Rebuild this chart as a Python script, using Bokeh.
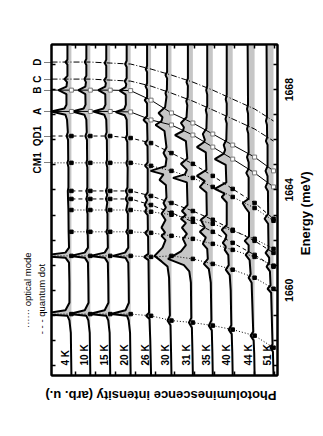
import math
from bokeh.plotting import figure
from bokeh.models import Range1d, LinearAxis, FixedTicker, ColumnDataSource, NumeralTickFormatter
from bokeh.core.properties import value
from bokeh.embed import file_html
from bokeh.resources import INLINE

# ---------------- data ----------------
temps = ["4 K", "10 K", "15 K", "20 K", "26 K", "30 K", "31 K", "35 K", "40 K", "44 K", "51 K"]
offsets = [10.3, 9.35, 8.35, 7.325, 6.3, 5.275, 4.2, 3.2, 2.2, 1.1, 0.15]

# peak trajectories (meV) per temperature
E_D = [1669.10, 1669.10, 1669.06, 1669.02, 1668.82, 1668.58, 1668.30, 1667.98, 1667.62, 1667.23, 1666.75]
E_C = [1668.42, 1668.42, 1668.38, 1668.34, 1668.14, 1667.86, 1667.54, 1667.19, 1666.83, 1666.43, 1665.95]
E_B = [1667.98, 1667.98, 1667.98, 1667.96, 1667.58, 1667.07, 1666.67, 1666.23, 1665.79, 1665.31, 1664.76]
E_A = [1667.13, 1667.13, 1667.13, 1667.11, 1666.79, 1666.59, 1666.19, 1665.71, 1665.23, 1664.68, 1664.12]
E_QD1 = [1666.15, 1666.15, 1666.15, 1666.07, 1665.87, 1665.47, 1665.04, 1664.56, 1664.04, 1663.48, 1662.85]
E_CM1 = [1665.08, 1665.08, 1665.08, 1665.08, 1664.96, 1664.76, 1664.48, 1664.12, 1663.72, 1663.28, 1662.77]
E_Q2 = [1663.96, 1663.96, 1663.96, 1663.96, 1663.76, 1663.48, 1663.16, 1662.81, 1662.41, 1661.97, 1661.49]
E_Q3 = [1663.64, 1663.64, 1663.64, 1663.64, 1663.40, 1663.09, 1662.73, 1662.33, 1661.89, 1661.41, 1660.94]
E_M3 = [1663.20, 1663.20, 1663.20, 1663.20, 1663.13, 1663.01, 1662.85, 1662.65, 1662.37, 1662.05, 1661.65]
E_M4 = [1662.33, 1662.33, 1662.33, 1662.33, 1662.29, 1662.17, 1662.05, 1661.85, 1661.61, 1661.33, 1660.98]
E_M5 = [1661.37, 1661.37, 1661.37, 1661.37, 1661.33, 1661.37, 1661.25, 1661.05, 1660.82, 1660.50, 1660.06]
E_M6 = [1659.05, 1659.05, 1659.05, 1659.05, 1658.98, 1658.79, 1658.71, 1658.59, 1658.43, 1658.19, 1657.71]

# spectra: (energy meV, intensity arb. u.)
S4 = [(1669.8,.2),(1669.2,.2),(1669.1,.3),(1669.0,.2),(1668.55,.2),(1668.42,.35),(1668.3,.22),(1668.12,.25),(1667.98,.65),(1667.82,.25),(1667.4,.25),(1667.25,.35),(1667.13,1.02),(1667.0,.3),(1666.8,.22),(1666.3,.18),(1666.15,.24),(1666.0,.17),(1665.2,.16),(1665.08,.2),(1664.9,.15),(1664.1,.15),(1663.96,.18),(1663.64,.17),(1663.2,.15),(1662.33,.14),(1661.7,.12),(1661.5,.3),(1661.37,1.6),(1661.3,.3),(1661.1,.12),(1660.3,.1),(1659.5,.1),(1659.2,.3),(1659.05,1.6),(1658.98,.2),(1658.8,.1),(1658.3,.03),(1656.6,0)]
S10 = [(1669.8,.2),(1669.22,.2),(1669.1,.28),(1668.98,.2),(1668.55,.2),(1668.42,.3),(1668.3,.22),(1668.12,.25),(1667.98,.6),(1667.82,.25),(1667.4,.24),(1667.25,.33),(1667.13,.9),(1667.0,.3),(1666.8,.2),(1666.3,.18),(1666.15,.25),(1666.0,.17),(1665.2,.16),(1665.08,.2),(1664.9,.15),(1664.1,.15),(1663.96,.2),(1663.8,.15),(1663.64,.2),(1663.5,.15),(1663.2,.18),(1663.05,.14),(1662.45,.14),(1662.33,.17),(1662.2,.13),(1661.7,.12),(1661.5,.28),(1661.37,1.0),(1661.3,.28),(1661.1,.12),(1660.3,.1),(1659.5,.09),(1659.2,.28),(1659.05,1.05),(1658.98,.2),(1658.8,.1),(1658.3,.03),(1656.6,0)]
S15 = [(1669.8,.2),(1669.2,.2),(1669.06,.28),(1668.95,.2),(1668.5,.2),(1668.38,.3),(1668.26,.22),(1668.12,.25),(1667.98,.6),(1667.82,.25),(1667.4,.24),(1667.25,.33),(1667.13,.85),(1667.0,.3),(1666.8,.2),(1666.3,.18),(1666.15,.25),(1666.0,.17),(1665.2,.16),(1665.08,.2),(1664.9,.15),(1664.1,.15),(1663.96,.22),(1663.8,.15),(1663.64,.22),(1663.5,.15),(1663.2,.2),(1663.05,.14),(1662.45,.14),(1662.33,.2),(1662.2,.13),(1661.7,.12),(1661.5,.28),(1661.37,1.0),(1661.3,.28),(1661.1,.12),(1660.3,.1),(1659.5,.09),(1659.2,.28),(1659.05,1.05),(1658.98,.2),(1658.8,.1),(1658.3,.03),(1656.6,0)]
S20 = [(1669.8,.2),(1669.15,.2),(1669.02,.28),(1668.9,.2),(1668.46,.2),(1668.34,.3),(1668.22,.22),(1668.1,.25),(1667.96,.55),(1667.8,.25),(1667.4,.24),(1667.23,.32),(1667.11,.75),(1666.98,.3),(1666.8,.2),(1666.2,.18),(1666.07,.25),(1665.92,.17),(1665.2,.16),(1665.08,.22),(1664.9,.15),(1664.1,.16),(1663.96,.25),(1663.8,.16),(1663.64,.25),(1663.5,.15),(1663.2,.22),(1663.05,.14),(1662.45,.14),(1662.33,.22),(1662.2,.13),(1661.7,.12),(1661.5,.28),(1661.37,.9),(1661.3,.26),(1661.1,.12),(1660.3,.1),(1659.5,.09),(1659.2,.26),(1659.05,1.0),(1658.98,.18),(1658.8,.1),(1658.3,.03),(1656.6,0)]
S26 = [(1669.8,.2),(1668.95,.2),(1668.82,.27),(1668.7,.2),(1668.25,.2),(1668.14,.28),(1668.0,.2),(1667.7,.2),(1667.58,.32),(1667.45,.2),(1666.95,.2),(1666.79,.38),(1666.65,.2),(1666.0,.18),(1665.87,.3),(1665.75,.18),(1665.1,.17),(1664.96,.3),(1664.85,.17),(1663.9,.17),(1663.76,.3),(1663.6,.2),(1663.40,.32),(1663.27,.22),(1663.13,.3),(1663.0,.17),(1662.4,.16),(1662.29,.3),(1662.15,.15),(1661.45,.14),(1661.33,.35),(1661.2,.13),(1659.1,.1),(1658.98,.25),(1658.85,.08),(1658.0,.04),(1656.6,0)]
S30 = [(1669.8,.22),(1668.7,.22),(1668.58,.3),(1668.45,.22),(1668.0,.23),(1667.86,.3),(1667.72,.25),(1667.3,.32),(1667.07,.65),(1666.9,.45),(1666.75,.5),(1666.59,.8),(1666.35,.35),(1665.7,.25),(1665.47,.4),(1665.25,.25),(1664.95,.3),(1664.76,1.05),(1664.62,.4),(1664.4,.6),(1664.2,.28),(1663.7,.25),(1663.48,.4),(1663.3,.28),(1663.05,.5),(1662.8,.3),(1662.5,.5),(1662.3,.32),(1662.17,.5),(1662.0,.3),(1661.7,.45),(1661.37,.85),(1661.15,.5),(1660.95,.2),(1660.5,.12),(1659.0,.08),(1658.79,.2),(1658.6,.05),(1657.5,.02),(1656.6,0)]
S31 = [(1669.8,.25),(1668.45,.25),(1668.30,.32),(1668.15,.25),(1667.7,.26),(1667.54,.33),(1667.38,.28),(1666.9,.32),(1666.67,.6),(1666.5,.45),(1666.35,.5),(1666.19,.9),(1665.95,.35),(1665.25,.28),(1665.04,.6),(1664.8,.3),(1664.62,.4),(1664.48,1.0),(1664.3,.3),(1663.4,.27),(1663.16,.55),(1663.0,.35),(1662.85,.6),(1662.68,.35),(1662.5,.55),(1662.25,.3),(1662.05,.5),(1661.8,.35),(1661.55,.6),(1661.25,1.25),(1661.0,.45),(1660.75,.18),(1660.3,.1),(1658.9,.08),(1658.71,.2),(1658.5,.05),(1657.5,.02),(1656.6,0)]
S35 = [(1669.8,.28),(1668.15,.28),(1667.98,.33),(1667.8,.28),(1667.35,.28),(1667.19,.35),(1667.0,.3),(1666.45,.32),(1666.23,.5),(1666.0,.4),(1665.9,.45),(1665.71,.8),(1665.5,.35),(1664.8,.32),(1664.56,.8),(1664.35,.4),(1664.12,.65),(1663.9,.32),(1663.0,.3),(1662.81,.6),(1662.65,.5),(1662.5,.4),(1662.33,.65),(1662.1,.35),(1661.85,.5),(1661.65,.28),(1661.25,.25),(1661.05,.45),(1660.85,.2),(1660.3,.1),(1658.8,.07),(1658.59,.2),(1658.4,.05),(1657.5,.02),(1656.6,0)]
S40 = [(1669.8,.3),(1667.8,.3),(1667.62,.35),(1667.45,.3),(1667.0,.3),(1666.83,.36),(1666.65,.3),(1666.0,.32),(1665.79,.45),(1665.6,.38),(1665.45,.45),(1665.23,.9),(1665.0,.35),(1664.3,.32),(1664.04,.9),(1663.85,.4),(1663.72,.55),(1663.5,.3),(1662.6,.3),(1662.41,.55),(1662.2,.32),(1662.05,.35),(1661.89,.5),(1661.75,.35),(1661.61,.4),(1661.4,.22),(1661.0,.2),(1660.82,.35),(1660.6,.15),(1660.0,.1),(1658.6,.07),(1658.43,.2),(1658.25,.05),(1657.5,.02),(1656.6,0)]
S44 = [(1669.8,.35),(1667.4,.33),(1667.23,.38),(1667.05,.33),(1666.6,.32),(1666.43,.38),(1666.25,.32),(1665.5,.3),(1665.31,.38),(1665.1,.3),(1664.85,.3),(1664.68,.42),(1664.5,.3),(1663.65,.3),(1663.48,.6),(1663.28,.45),(1663.1,.28),(1662.15,.28),(1661.97,.5),(1661.8,.3),(1661.55,.3),(1661.41,.45),(1661.2,.25),(1660.65,.2),(1660.50,.3),(1660.3,.15),(1658.35,.07),(1658.19,.2),(1658.0,.05),(1657.5,.02),(1656.6,0)]
S51 = [(1669.8,.35),(1666.9,.33),(1666.75,.38),(1666.6,.33),(1666.1,.32),(1665.95,.38),(1665.8,.3),(1664.95,.3),(1664.76,.4),(1664.55,.3),(1664.3,.3),(1664.12,.4),(1663.95,.28),(1663.05,.27),(1662.85,.45),(1662.65,.27),(1661.65,.25),(1661.49,.4),(1661.3,.22),(1661.1,.22),(1660.94,.35),(1660.75,.18),(1660.2,.15),(1660.06,.3),(1659.9,.12),(1657.85,.05),(1657.71,.15),(1657.55,.03),(1656.6,0)]
spectra = [S4, S10, S15, S20, S26, S30, S31, S35, S40, S44, S51]

energy_ticks = list(range(1657, 1670))
energy_labels = [1660, 1664, 1668]
intensity_ticks = [0.1 + k for k in range(11)]
line_names = ["D", "C", "B", "A", "QD1", "CM1"]
line_label_E = [E_D[0], E_C[0], E_B[0], E_A[0], E_QD1[0], E_CM1[0]]
legend_E = {"qd": 1659.7, "om": 1660.0}

# ---------------- figure ----------------
XL, XR = 11.30, -0.05
E0, E1 = 1656.6, 1669.8
FW, FH = 227, 331  # frame size in px
PX_PER_MEV = FH / (E1 - E0)
FONT = value("Liberation Sans")

p = figure(width=323, height=436, output_backend="svg", toolbar_location=None,
           x_range=Range1d(XL, XR), y_range=Range1d(E0, E1),
           x_axis_location=None, y_axis_location=None,
           min_border_left=51, min_border_right=45, min_border_top=44, min_border_bottom=61)
p.xgrid.grid_line_color = None
p.ygrid.grid_line_color = None
p.outline_line_color = "black"
p.outline_line_width = 2
p.background_fill_color = "white"
p.border_fill_color = "white"

def base_axis(ticks, minor, line=True):
    ax = LinearAxis(ticker=FixedTicker(ticks=ticks, minor_ticks=minor))
    ax.major_tick_in = 0
    ax.major_tick_out = 0
    ax.minor_tick_in = 4 if minor else 0
    ax.minor_tick_out = 0
    ax.minor_tick_line_width = 1.5
    if line:
        ax.axis_line_width = 2
    else:
        ax.axis_line_color = None
    ax.major_label_text_font = "Liberation Sans"
    ax.major_label_text_color = "black"
    return ax

# right: energy ticks, labels centred on their values (labels run upward from their anchor)
half = 0.5 * 4 * 0.556 * 10.5 / PX_PER_MEV
r_anchor = [e - half for e in energy_labels]
ax_r = base_axis(r_anchor, energy_ticks)
ax_r.formatter = NumeralTickFormatter(format="0")
ax_r.major_label_overrides = {a: str(e) for a, e in zip(r_anchor, energy_labels)}
ax_r.major_label_orientation = math.pi / 2
ax_r.major_label_text_font_style = "bold"
ax_r.major_label_text_font_size = "10.5px"
ax_r.major_label_standoff = 12
p.add_layout(ax_r, "right")

ax_r2 = base_axis([1661.4], [], line=False)
ax_r2.major_label_overrides = {1661.4: "Energy (meV)"}
ax_r2.major_label_orientation = math.pi / 2
ax_r2.major_label_text_font_style = "bold"
ax_r2.major_label_text_font_size = "13px"
ax_r2.major_label_standoff = 5
p.add_layout(ax_r2, "right")

# left: energy ticks + labelled lines with dotted connectors
ax_l = base_axis(line_label_E, energy_ticks)
ax_l.major_tick_out = 7
ax_l.major_tick_line_dash = "1 1"
ax_l.major_tick_line_width = 1
ax_l.major_label_overrides = {e: n for e, n in zip(line_label_E, line_names)}
ax_l.major_label_orientation = "vertical"
ax_l.major_label_text_font_style = "bold"
ax_l.major_label_text_font_size = "10px"
ax_l.major_label_standoff = 1
p.add_layout(ax_l, "left")

ax_l2 = base_axis([legend_E["qd"]], [], line=False)
ax_l2.major_label_overrides = {legend_E["qd"]: "- - -  quantum dot"}
ax_l2.major_label_orientation = "vertical"
ax_l2.major_label_text_font_size = "9.5px"
ax_l2.major_label_standoff = -18
p.add_layout(ax_l2, "left")

ax_l3 = base_axis([legend_E["om"]], [], line=False)
ax_l3.major_label_overrides = {legend_E["om"]: "\u00b7\u00b7\u00b7\u00b7\u00b7\u00b7 optical mode"}
ax_l3.major_label_orientation = "vertical"
ax_l3.major_label_text_font_size = "9.5px"
ax_l3.major_label_standoff = -4
p.add_layout(ax_l3, "left")

# bottom: intensity ticks + upside-down axis title (anchored at its right end)
ax_b = base_axis([0], intensity_ticks)
ax_b.major_label_overrides = {0: "Photoluminescence intensity (arb. u.)"}
ax_b.major_label_orientation = -math.pi
ax_b.major_label_text_font_style = "bold"
ax_b.major_label_text_font_size = "13px"
ax_b.major_label_standoff = 20
p.add_layout(ax_b, "below")
p.add_layout(base_axis([], intensity_ticks), "above")

# grey fills
for off, spec in zip(offsets, spectra):
    es = [e for e, _ in spec]
    xs = [off + v for _, v in spec]
    src = ColumnDataSource(dict(y=es, x1=[off] * len(es), x2=xs))
    p.harea(x1="x1", x2="x2", y="y", source=src, fill_color="#c6c6c6")

traj = [
    (E_D, "dashdot", None, True),
    (E_C, "dashdot", None, True),
    (E_B, "solid", "open", True),
    (E_A, "solid", "open", True),
    (E_QD1, "dashed", "fill", True),
    (E_CM1, "dotted", "fill", True),
    (E_Q2, "dashed", "fill", False),
    (E_Q3, "dashed", "fill", False),
    (E_M3, "dotted", "fill", False),
    (E_M4, "dotted", "fill", False),
    (E_M5, "dotted", "fill", True),
    (E_M6, "dotted", "fill", True),
]
dash_map = {"dashdot": "6 2 1 2", "solid": "solid", "dashed": "4 3", "dotted": "1 2"}
for es, dash, mk, from_edge in traj:
    xs = list(offsets)
    ys = list(es)
    if from_edge:
        xs = [XL] + xs
        ys = [es[0]] + ys
    p.line(xs, ys, line_color="black", line_width=1, line_dash=dash_map[dash])

for off, spec in zip(offsets, spectra):
    p.line([off + v for _, v in spec], [e for e, _ in spec], line_color="black", line_width=2)

for es, dash, mk, from_edge in traj:
    if mk == "fill":
        p.scatter(offsets, es, marker="square", size=3.5, fill_color="black", line_color="black")
    elif mk == "open":
        p.scatter(offsets, es, marker="square", size=4, fill_color="white", line_color="#777777")

# temperature labels
p.text(x=[o + 0.3 for o in offsets], y=[1657.0] * len(offsets), text=temps, angle=math.pi / 2,
       text_align="left", text_baseline="middle", text_font=FONT, text_font_style="bold",
       text_font_size="10px", text_color="black")

open("out.html", "w").write(file_html(p, INLINE))
